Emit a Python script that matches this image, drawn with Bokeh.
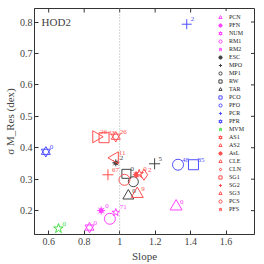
import math
from bokeh.plotting import figure
from bokeh.models import Legend, LegendItem, FixedTicker, Span, Label, ColumnDataSource
from bokeh.embed import file_html
from bokeh.resources import INLINE
from bokeh.core.properties import value

# ---- data ----
names = ["PCN", "PFN", "NUM", "RM1", "RM2", "ESC", "MPO", "MP1", "RW", "TAR",
         "PCO", "PFO", "PCR", "PFR", "MVM", "AS1", "AS2", "AsL", "CLE", "CLN",
         "SG1", "SG2", "SG3", "PCS", "PFS"]
slope = [1.318, 0.896, 0.830, 0.945, 0.978, 0.978, 1.197, 1.077, 1.038, 1.049,
         1.416, 1.329, 1.378, 0.584, 0.655, 0.978, 0.868, 1.093, 0.973, 1.137,
         0.912, 0.934, 1.099, 1.027, 1.110]
sigma = [0.213, 0.200, 0.146, 0.174, 0.194, 0.352, 0.349, 0.292, 0.317, 0.247,
         0.346, 0.346, 0.793, 0.387, 0.143, 0.435, 0.435, 0.314, 0.368, 0.314,
         0.432, 0.314, 0.253, 0.298, 0.317]
counts = ["0", "0", "0", "", "71", "2", "5", "", "0", "0",
          "85", "48", "2", "0", "0", "26", "26", "", "11", "2",
          "33", "67", "9", "", "0"]
x_ticks = [0.6, 0.8, 1.0, 1.2, 1.4, 1.6]
x_tick_labels = ["0.6", "0.8", "1", "1.2", "1.4", "1.6"]
y_ticks = [0.2, 0.3, 0.4, 0.5, 0.6, 0.7, 0.8]
x_lim = (0.52, 1.76)
y_lim = (0.124, 0.843)

# ---- styles ----
MAG = "#ff44ff"
BLK = "#444444"
BLU = "#5050ff"
GRN = "#44dd44"
RED = "#ff5050"
style = {
    "PCN": ("triangle", MAG, 12), "PFN": ("astdot", MAG, 8), "NUM": ("hexagram", MAG, 9),
    "RM1": ("circle", MAG, 11), "RM2": ("star", MAG, 8), "ESC": ("astdot", BLK, 7),
    "MPO": ("cross", BLK, 11), "MP1": ("circle", BLK, 10), "RW": ("square", BLK, 9),
    "TAR": ("triangle", BLK, 11), "PCO": ("square", BLU, 10), "PFO": ("circle", BLU, 11),
    "PCR": ("cross", BLU, 10), "PFR": ("hexagram", BLU, 9), "MVM": ("star", GRN, 10),
    "AS1": ("hexagram", RED, 9), "AS2": ("tri_right", RED, 12), "AsL": ("astdot", RED, 7),
    "CLE": ("tri_left", RED, 12), "CLN": ("diamond", RED, 11), "SG1": ("square", RED, 10),
    "SG2": ("cross", RED, 11), "SG3": ("triangle", RED, 12), "PCS": ("circle", RED, 11),
    "PFS": ("star", RED, 9),
}

SERIF = "Liberation Serif"
FONT = value(SERIF)
AXC = "#333333"

p = figure(frame_width=220, frame_height=226, x_range=x_lim, y_range=y_lim,
           output_backend="svg", toolbar_location=None,
           min_border_left=0, min_border_right=1, min_border_top=8, min_border_bottom=0)
p.xgrid.visible = False
p.ygrid.visible = False
p.outline_line_color = AXC
p.background_fill_color = "white"

p.add_layout(Span(location=1.0, dimension="height", line_color="#aaaaaa",
                  line_dash="1 2", line_width=1))

# inward ticks on the top and right edges
p.scatter(x=x_ticks, y=[y_lim[1]] * len(x_ticks), marker="dash", angle=math.pi / 2,
          size=8, line_color=AXC, line_width=1)
p.scatter(x=[x_lim[1]] * len(y_ticks), y=y_ticks, marker="dash",
          size=8, line_color=AXC, line_width=1)

items = []
for i, n in enumerate(names):
    kind, col, sz = style[n]
    src = ColumnDataSource(dict(x=[slope[i]], y=[sigma[i]], t=[counts[i]]))
    rs = []
    common = dict(x="x", y="y", source=src, line_color=col, line_width=1)
    if kind == "hexagram":
        rs.append(p.scatter(marker="triangle", size=sz, fill_alpha=0, **common))
        rs.append(p.scatter(marker="inverted_triangle", size=sz, fill_alpha=0, **common))
    elif kind == "astdot":
        rs.append(p.scatter(marker="asterisk", size=sz, **common))
        rs.append(p.scatter(marker="circle", size=sz * 0.5, fill_color=col, **common))
    elif kind == "tri_right":
        rs.append(p.scatter(marker="triangle", size=sz, angle=-math.pi / 2, fill_alpha=0, **common))
    elif kind == "tri_left":
        rs.append(p.scatter(marker="triangle", size=sz, angle=math.pi / 2, fill_alpha=0, **common))
    else:
        rs.append(p.scatter(marker=kind, size=sz, fill_alpha=0, **common))
    if counts[i]:
        p.text(x="x", y="y", text="t", source=src, x_offset=4, y_offset=-3,
               text_font=FONT, text_font_size="7px", text_color=col,
               text_baseline="bottom", text_align="left")
    items.append(LegendItem(label=n, renderers=rs))

legend = Legend(items=items, location="top_right", border_line_alpha=0,
                background_fill_alpha=1, label_text_font=SERIF,
                label_text_font_size="6px", label_text_color="#222222",
                glyph_height=8, glyph_width=10, label_height=8, spacing=0,
                padding=2, margin=3, label_standoff=4)
p.add_layout(legend)

p.add_layout(Label(x=0.56, y=0.8, text="HOD2", text_font=SERIF, text_font_size="11px",
                   text_baseline="middle"))

for ax in p.xaxis + p.yaxis:
    ax.major_tick_in = 4
    ax.major_tick_out = 0
    ax.minor_tick_line_color = None
    ax.axis_line_color = AXC
    ax.major_tick_line_color = AXC
    ax.major_label_text_font = SERIF
    ax.major_label_text_font_size = "10px"
    ax.axis_label_text_font = SERIF
    ax.axis_label_text_font_style = "normal"
    ax.axis_label_text_font_size = "11px"

p.xaxis.ticker = FixedTicker(ticks=x_ticks)
p.xaxis.major_label_overrides = {t: l for t, l in zip(x_ticks, x_tick_labels)}
p.yaxis.ticker = FixedTicker(ticks=y_ticks)
p.xaxis.axis_label = "Slope"
p.yaxis.axis_label = "σ M_Res (dex)"
p.xaxis.major_label_standoff = 3
p.yaxis.major_label_standoff = 2
p.xaxis.axis_label_standoff = 2
p.yaxis.axis_label_standoff = 1

open("out.html", "w").write(file_html(p, INLINE))
